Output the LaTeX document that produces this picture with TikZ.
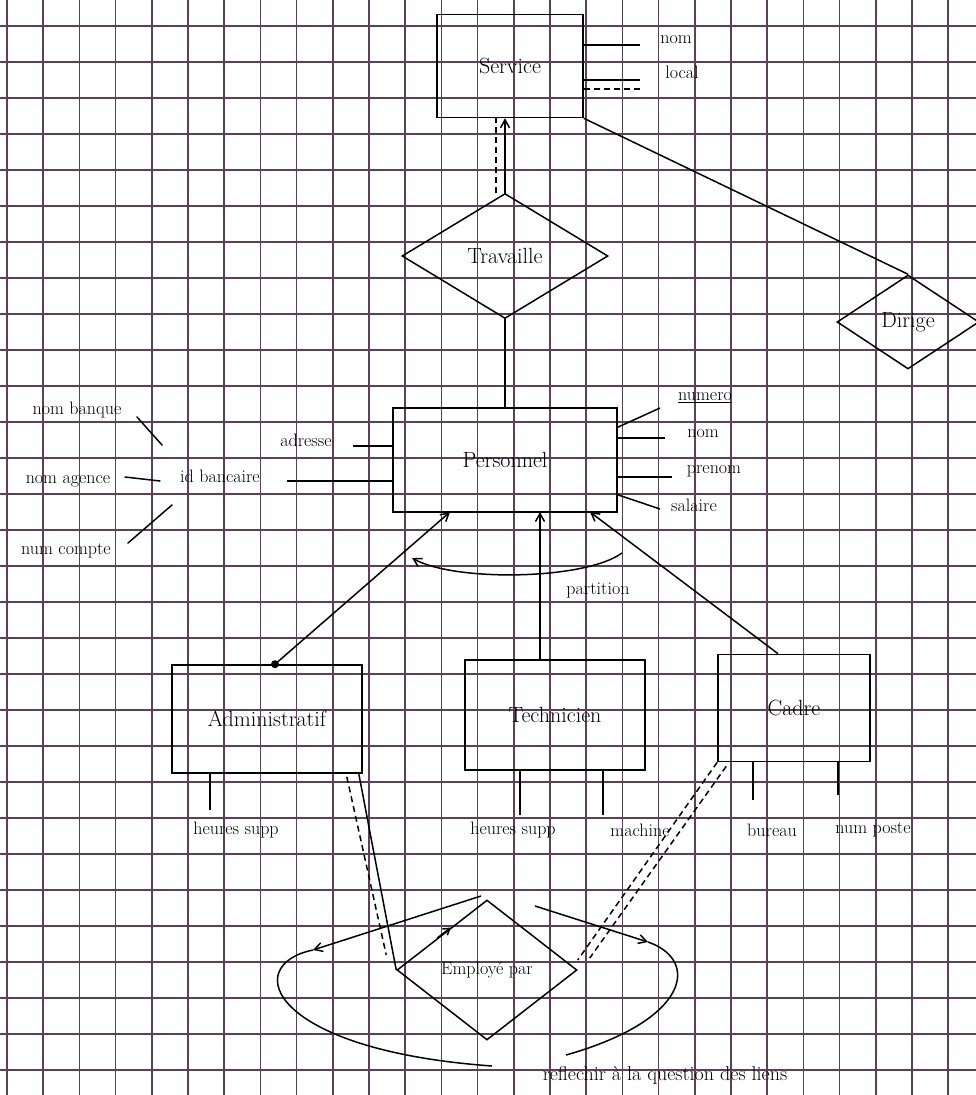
\documentclass[tikz,border=0pt]{standalone}
\usepackage{tkz-euclide}
\usetikzlibrary{shapes.geometric,arrows.meta,calc}
\definecolor{carreau}{RGB}{92,64,88}
\tikzset{
  boite/.style={draw,line width=1.6pt,inner sep=0pt,font=\fontsize{22}{26}\selectfont},
  losange/.style={draw,diamond,aspect=1.5,line width=1.5pt,inner sep=0pt,font=\fontsize{22}{26}\selectfont},
  attr/.style={inner sep=1pt,font=\fontsize{18}{21}\selectfont},
  lien/.style={line width=1.5pt},
  pointille/.style={line width=1.5pt,dash pattern=on 6pt off 4pt},
  fleche/.style={lien,-{Straight Barb[length=8pt,width=9pt]}},
  carreaux/.style={line width=1.5pt,draw=carreau}
}
\begin{document}
\begin{tikzpicture}[x=1pt,y=-1pt]
\useasboundingbox (0,0) rectangle (976,1095);
\foreach \i in {0,...,26} \draw[carreaux] ({7+36.2*\i},0) -- ({7+36.2*\i},1095);
\foreach \j in {0,...,29} \draw[carreaux] (0,{26+36*\j}) -- (976,{26+36*\j});

\node[boite,minimum width=146,minimum height=103] (serv) at (510,66) {Service};
\node[boite,minimum width=224,minimum height=104] (pers) at (505,460) {Personnel};
\node[boite,minimum width=190,minimum height=108] (adm) at (267,719) {Administratif};
\node[boite,minimum width=180,minimum height=110] (tech) at (555,715) {Technicien};
\node[boite,minimum width=152,minimum height=107] (cadre) at (794,708) {Cadre};
\node[losange,minimum width=206,minimum height=125] (trav) at (505,256) {Travaille};
\node[losange,minimum width=142,minimum height=94] (dir) at (908,322) {Dirige};
\node[losange,minimum width=180,minimum height=140,font=\fontsize{18}{21}\selectfont] (emp) at (487,970) {Employé par};

\tkzDefPoints{640/45/nS, 640/80/lS, 643/89/dS,
  660/408/numP, 665/438/nomP, 672/477/preP, 660/509/salP,
  353/446/adrP, 287/481/idP,
  137/417/bqA, 162/445/bqB, 125/477/agA, 160/481/agB, 128/543/cpA, 172/505/cpB,
  210/810/hsA, 520/815/hsT, 603/815/maT, 753/800/buC, 838/795/poC,
  450/512/hA, 540/512/hT, 590/512/hC, 622/553/arcR, 412/558/arcL,
  481/896/bA, 313/950/bB, 492/1066/bC, 535/906/bD, 648/942/bE, 566/1055/bF}

\node[attr] (tnomS) at (676,40) {nom};
\node[attr] (tloc) at (682,72) {local};
\node[attr] (tnum) at (705,398) {\underline{numero}};
\node[attr] (tnomP) at (703,434) {nom};
\node[attr] (tpre) at (714,471) {prenom};
\node[attr] (tsal) at (694,505) {salaire};
\node[attr] (tadr) at (306,440) {adresse};
\node[attr] (tid) at (220,476) {id bancaire};
\node[attr] (tbq) at (77,410) {nom banque};
\node[attr] (tag) at (68,481) {nom agence};
\node[attr] (tcp) at (66,551) {num compte};
\node[attr] (thsA) at (236,830) {heures supp};
\node[attr] (thsT) at (513,830) {heures supp};
\node[attr] (tmach) at (640,830) {machine};
\node[attr] (tbur) at (772,830) {bureau};
\node[attr] (tpos) at (873,830) {num poste};
\node[attr] (tpart) at (598,590) {partition};
\node[attr,font=\fontsize{20}{24}\selectfont] (tnote) at (665,1075) {reflechir à la question des liens};

\draw[lien] (serv.east |- nS) -- (nS);
\draw[lien] (serv.east |- lS) -- (lS);
\draw[pointille] (serv.east |- dS) -- (dS);
\draw[lien] ([yshift=-20]pers.north east) -- (numP);
\draw[lien] (pers.east |- nomP) -- (nomP);
\draw[lien] (pers.east |- preP) -- (preP);
\draw[lien] ([yshift=18]pers.south east) -- (salP);
\draw[lien] (adrP) -- (pers.west |- adrP);
\draw[lien] (idP) -- (pers.west |- idP);
\tkzDrawSegments[lien](bqA,bqB agA,agB cpA,cpB)
\draw[lien] (adm.south -| hsA) -- (hsA);
\draw[lien] (tech.south -| hsT) -- (hsT);
\draw[lien] (tech.south -| maT) -- (maT);
\draw[lien] (cadre.south -| buC) -- (buC);
\draw[lien] (cadre.south -| poC) -- (poC);

\draw[fleche] (trav.north) -- (trav.north |- serv.south);
\draw[pointille] ([xshift=-9]trav.north) -- ([xshift=-9]trav.north |- serv.south);
\draw[lien] (trav.south) -- (trav.south |- pers.north);
\draw[lien] (serv.south east) -- (dir.north);

\fill ([xshift=8]adm.north) circle (4pt);
\draw[fleche] ([xshift=8]adm.north) -- (hA);
\draw[fleche] (tech.north -| hT) -- (hT);
\draw[fleche] ([xshift=-16]cadre.north) -- (hC);
\draw[fleche] (arcR) .. controls (585,580) and (455,582) .. (arcL);

\draw[lien] ([xshift=-4]adm.south east) -- (emp.west);
\draw[pointille] ([xshift=-16,yshift=-3]adm.south east) -- ([xshift=-10,yshift=15]emp.west);
\draw[pointille] (cadre.south west) -- ([yshift=10]emp.east);
\draw[pointille] ([xshift=9,yshift=-4]cadre.south west) -- ([xshift=12,yshift=12]emp.east);
\draw[lien,-{Straight Barb[length=6pt,width=8pt]}] ($(emp.west)!0.45!(emp.north)$) -- ($(emp.west)!0.6!(emp.north)$);

\draw[fleche] (bA) -- (bB);
\draw[lien] (bB) .. controls (240,965) and (270,1050) .. (bC);
\draw[fleche] (bD) -- (bE);
\draw[lien] (bE) .. controls (700,960) and (690,1020) .. (bF);
\end{tikzpicture}
\end{document}
